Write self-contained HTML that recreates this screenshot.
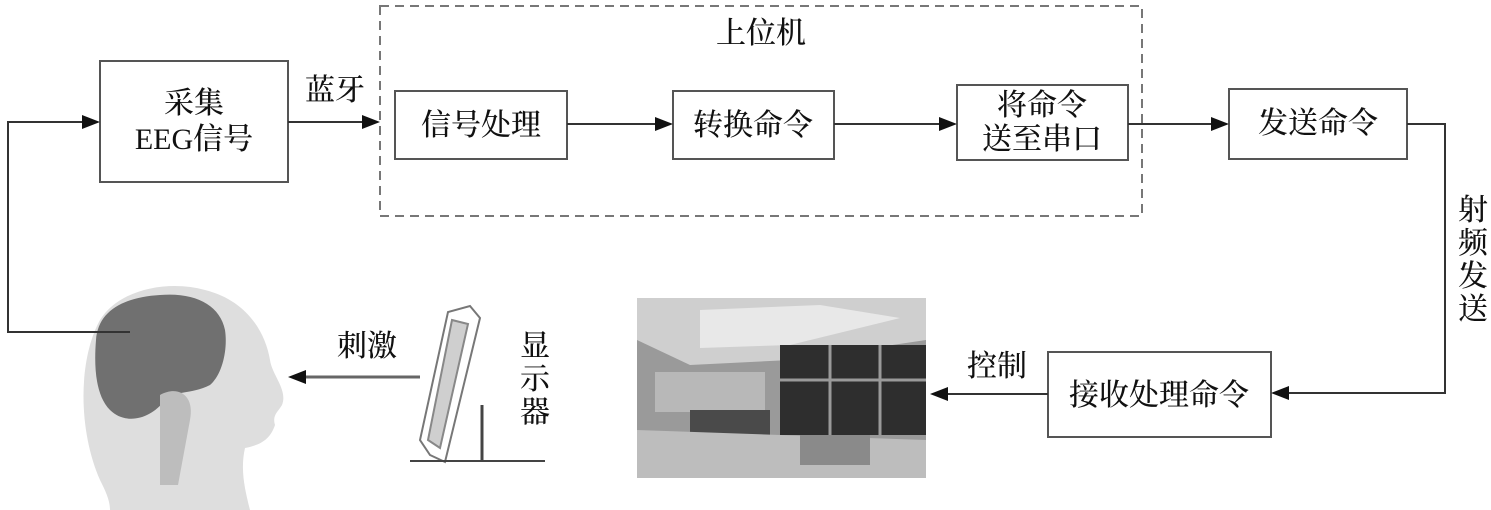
<!DOCTYPE html>
<html><head><meta charset="utf-8"><style>
html,body{margin:0;padding:0;background:#fff;}
svg{display:block}
text{font-family:"Liberation Serif","Noto Serif CJK SC",serif;font-size:30px;fill:#111;font-weight:500;}
</style></head><body>
<svg width="1491" height="510" viewBox="0 0 1491 510" xmlns="http://www.w3.org/2000/svg">
<g stroke="#555" stroke-width="2" fill="none">
<rect x="380" y="6" width="762" height="210" stroke-dasharray="9,6" stroke="#777"/>
<rect x="100" y="61" width="188" height="121"/>
<rect x="395" y="91" width="172" height="68"/>
<rect x="673" y="91" width="161" height="68"/>
<rect x="957" y="85" width="171" height="75"/>
<rect x="1229" y="89" width="178" height="70"/>
<rect x="1048" y="352" width="223" height="85"/>
</g>
<!-- head -->
<path d="M100,480 C78,430 78,360 100,320 C120,288 170,280 205,290 C245,300 265,330 270,360 C272,375 288,390 282,405 C278,412 272,415 275,425 C270,440 260,445 245,448 C240,470 245,490 250,510 L110,510 C110,500 105,490 100,480 Z" fill="#dedede"/>
<path d="M96,340 C98,310 125,297 160,295 C195,292 220,305 225,330 C228,350 222,375 210,385 C190,395 175,390 165,400 C150,420 125,425 110,410 C95,395 94,365 96,340 Z" fill="#707070"/>
<path d="M160,395 C178,385 195,395 190,420 L178,485 L160,485 Z" fill="#bdbdbd"/>
<g stroke="#333" stroke-width="2" fill="none">
<polyline points="130,332 8,332 8,122 86,122"/>
<line x1="288" y1="122" x2="366" y2="122"/>
<line x1="567" y1="124" x2="659" y2="124"/>
<line x1="834" y1="124" x2="943" y2="124"/>
<line x1="1128" y1="124" x2="1215" y2="124"/>
<polyline points="1407,124 1445,124 1445,393 1287,393"/>
<line x1="1048" y1="394" x2="946" y2="394"/>
<line x1="420" y1="377" x2="304" y2="377" stroke="#666" stroke-width="3"/>
</g>
<g fill="#111">
<polygon points="100,122 82,115 82,129"/>
<polygon points="380,122 362,115 362,129"/>
<polygon points="673,124 655,117 655,131"/>
<polygon points="957,124 939,117 939,131"/>
<polygon points="1229,124 1211,117 1211,131"/>
<polygon points="1271,393 1289,386 1289,400"/>
<polygon points="930,394 948,387 948,401"/>
<polygon points="288,377 306,370 306,384"/>
</g>
<text x="761" y="43" text-anchor="middle">上位机</text>
<text x="194" y="113" text-anchor="middle">采集</text>
<text x="194" y="149" text-anchor="middle">EEG信号</text>
<text x="335" y="100" text-anchor="middle">蓝牙</text>
<text x="481" y="135" text-anchor="middle">信号处理</text>
<text x="753" y="135" text-anchor="middle">转换命令</text>
<text x="1042" y="115" text-anchor="middle">将命令</text>
<text x="1042" y="149" text-anchor="middle">送至串口</text>
<text x="1318" y="133" text-anchor="middle">发送命令</text>
<text x="1159" y="405" text-anchor="middle">接收处理命令</text>
<text x="997" y="376" text-anchor="middle">控制</text>
<text x="367" y="356" text-anchor="middle">刺激</text>
<g text-anchor="middle">
<text x="1473" y="220">射</text><text x="1473" y="253">频</text><text x="1473" y="286">发</text><text x="1473" y="319">送</text>
<text x="535" y="356">显</text><text x="535" y="389">示</text><text x="535" y="422">器</text>
</g>
<!-- monitor -->
<g stroke="#777" fill="none" stroke-width="2">
<polygon points="470,306 480,318 445,462 430,455 420,440 448,312"/>
<polygon points="452,320 468,324 440,448 428,440" fill="#cfcfcf" stroke="#888"/>
<line x1="482" y1="405" x2="482" y2="460" stroke="#444" stroke-width="3"/>
<line x1="410" y1="461" x2="545" y2="461" stroke="#444" stroke-width="2"/>
</g>
<!-- room photo -->
<g>
<rect x="637" y="298" width="289" height="180" fill="#9a9a9a"/>
<polygon points="637,298 926,298 926,340 790,360 690,365 637,340" fill="#cfcfcf"/>
<polygon points="700,310 820,305 900,318 790,345 700,348" fill="#e8e8e8"/>
<rect x="780" y="345" width="146" height="90" fill="#2e2e2e"/>
<g stroke="#9a9a9a" stroke-width="3"><line x1="830" y1="345" x2="830" y2="435"/><line x1="880" y1="345" x2="880" y2="435"/><line x1="780" y1="380" x2="926" y2="380"/></g>
<rect x="655" y="372" width="110" height="40" fill="#b8b8b8"/>
<rect x="690" y="410" width="80" height="28" fill="#4a4a4a"/>
<polygon points="637,430 926,440 926,478 637,478" fill="#bdbdbd"/>
<rect x="800" y="435" width="70" height="30" fill="#8a8a8a"/>
</g>
</svg>
</body></html>
